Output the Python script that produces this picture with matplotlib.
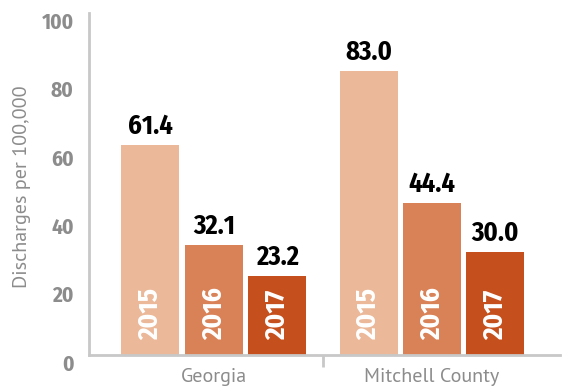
import matplotlib
matplotlib.use("Agg")
import matplotlib.pyplot as plt
import matplotlib.transforms as mtransforms

# Data
regions = ["Georgia", "Mitchell County"]
years = ["2015", "2016", "2017"]
georgia = [61.4, 32.1, 23.2]
mitchell = [83.0, 44.4, 30.0]
y_ticks = [0, 20, 40, 60, 80, 100]

colors = ["#EBB99A", "#D98258", "#C5501D"]
axis_gray = "#C8C8C8"
text_gray = "#8C8C8C"

bold_font = ["Fira Sans Condensed", "DejaVu Sans"]
reg_font = ["PT Sans", "DejaVu Sans"]

fig = plt.figure(figsize=(5.62, 3.89), dpi=100)
W, H = 562, 389
ax = fig.add_axes([89 / W, (H - 355) / H, (560 - 89) / W, (355 - 13) / H])

step = 0.291
width = 0.266
values = [georgia, mitchell]
for g, vals in enumerate(values):
    for j, v in enumerate(vals):
        x = g + (j - 1) * step
        ax.bar(x, v, width=width, color=colors[j], linewidth=0, zorder=2)
        ax.annotate(f"{v:.1f}", xy=(x, v), xytext=(0, 7.9), textcoords="offset points",
                    ha="center", va="baseline", fontsize=19, fontweight="bold",
                    family=bold_font, color="black")
        ax.annotate(years[j], xy=(x, 0), xytext=(0, 10.8), textcoords="offset points",
                    ha="center", va="bottom", rotation=90, fontsize=19.5,
                    fontweight="bold", family=bold_font, color="white", zorder=3)

ax.set_xlim(-0.573, 1.587)
ax.set_ylim(0, 100)

for s in ["top", "right"]:
    ax.spines[s].set_visible(False)
for s in ["left", "bottom"]:
    ax.spines[s].set_color(axis_gray)
    ax.spines[s].set_linewidth(2)

ax.set_xticks([])
ax.set_yticks(y_ticks)
ax.set_yticklabels([str(t) for t in y_ticks], fontsize=15.4, fontweight="bold",
                   family=bold_font, color=text_gray)
ax.tick_params(axis="y", length=0, pad=11)
shift = mtransforms.ScaledTranslation(0, -7.5 / 100, fig.dpi_scale_trans)
for lbl in ax.get_yticklabels():
    lbl.set_transform(lbl.get_transform() + shift)

# group separator tick
ax.plot([0.5, 0.5], [0, -12 / 3.42], color=axis_gray, linewidth=2, clip_on=False,
        solid_capstyle="butt")

# group labels
trans = mtransforms.blended_transform_factory(ax.transData, ax.transAxes)
for g, name in enumerate(regions):
    ax.annotate(name, xy=(g, 0), xycoords=trans, xytext=(0, -16), textcoords="offset points",
                ha="center", va="center", fontsize=14.5, family=reg_font, color=text_gray)

fig.text(22 / W, 1 - 187 / H, "Discharges per 100,000", rotation=90, ha="center",
         va="center", fontsize=14.5, family=reg_font, color=text_gray)

fig.savefig("out.png", dpi=100)
